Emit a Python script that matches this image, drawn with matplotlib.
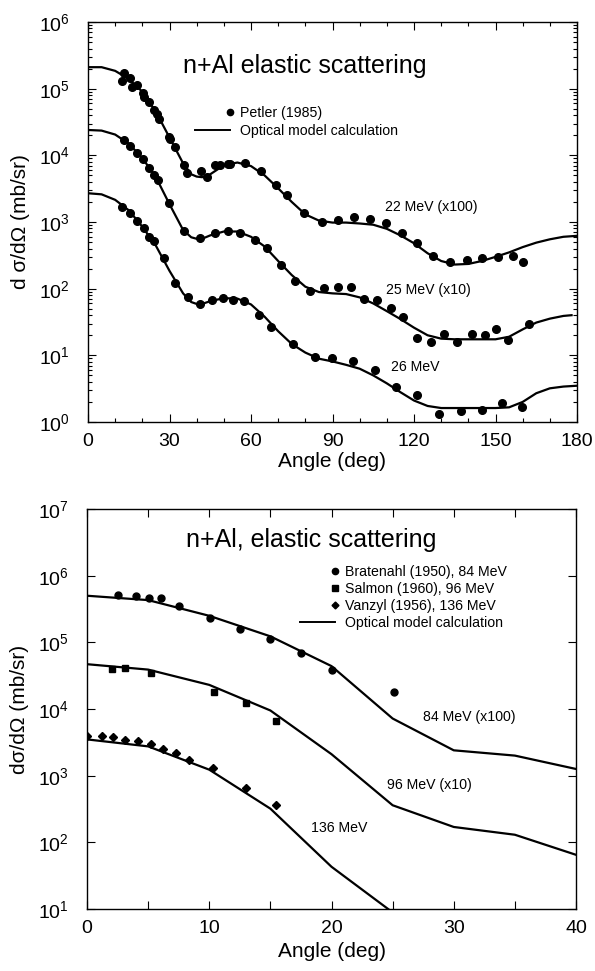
import matplotlib
matplotlib.use('Agg')
import matplotlib.pyplot as plt
from matplotlib.legend_handler import HandlerLine2D
from matplotlib.lines import Line2D
from matplotlib.ticker import MultipleLocator, LogLocator, NullLocator, NullFormatter

plt.rcParams['font.family'] = ['Liberation Sans', 'DejaVu Sans']
plt.rcParams['mathtext.fontset'] = 'custom'
plt.rcParams['mathtext.rm'] = 'Liberation Sans'
plt.rcParams['mathtext.default'] = 'regular'

# ---------- top panel: n+Al, 22/25/26 MeV ----------
ang_22 = [12.4, 13.2, 15.5, 16.3, 17.9, 20.1, 20.6, 22.5, 24.4, 25.5, 26.2, 29.9, 30.3, 32.0,
          35.4, 36.5, 41.6, 43.8, 46.7, 48.6, 51.4, 52.3, 57.8, 63.6, 69.2, 73.1, 79.5, 86.0,
          92.1, 97.9, 103.8, 109.7, 115.4, 121.0, 127.1, 133.2, 139.4, 145.2, 150.9, 156.5, 160.2]
xs_22 = [1.30e5, 1.74e5, 1.43e5, 1.07e5, 1.13e5, 8.7e4, 7.4e4, 6.3e4, 4.8e4, 4.2e4, 3.5e4, 1.9e4,
         1.74e4, 1.35e4, 7.2e3, 5.4e3, 5.8e3, 4.8e3, 7.1e3, 7.2e3, 7.4e3, 7.4e3, 7.6e3, 5.9e3,
         3.6e3, 2.5e3, 1.35e3, 1.0e3, 1.07e3, 1.2e3, 1.1e3, 9.8e2, 6.9e2, 4.8e2, 3.1e2, 2.5e2,
         2.7e2, 2.9e2, 3.0e2, 3.1e2, 2.5e2]

ang_25 = [13.2, 15.5, 17.9, 20.1, 22.5, 24.4, 25.6, 29.9, 35.4, 41.4, 46.7, 51.5, 56.0, 61.5,
          65.9, 71.1, 76.3, 81.7, 87.0, 92.1, 96.7, 101.6, 106.5, 111.4, 116.0, 121.0, 126.2,
          131.1, 136.0, 141.3, 146.2, 150.2, 154.7, 162.4]
xs_25 = [1.7e4, 1.4e4, 1.07e4, 8.7e3, 6.5e3, 5.1e3, 4.3e3, 1.9e3, 7.4e2, 5.8e2, 6.9e2, 7.4e2,
         6.9e2, 5.3e2, 4.1e2, 2.3e2, 1.3e2, 93, 102, 105, 105, 71, 68, 51, 37, 18, 16, 21, 16,
         21, 20, 25, 17, 30]

ang_26 = [12.4, 15.5, 18.1, 20.6, 22.6, 24.3, 28.1, 32.0, 36.9, 41.2, 45.5, 49.6, 53.5, 57.5,
          63.1, 67.4, 75.3, 83.5, 89.7, 97.6, 105.6, 113.4, 121.0, 129.2, 137.2, 144.9, 152.5, 159.6]
xs_26 = [1.7e3, 1.35e3, 1.05e3, 8.1e2, 6.0e2, 5.1e2, 2.9e2, 1.23e2, 74, 58, 68, 72, 68, 66,
         40, 27, 15, 9.3, 9.1, 8.1, 6.0, 3.4, 2.5, 1.32, 1.48, 1.51, 1.95, 1.66]

calc_ang = [0, 5, 10, 15, 20, 25, 30, 35, 38, 40, 42, 45, 50, 55, 60, 65, 70, 75, 80, 85, 90,
            95, 100, 105, 110, 115, 120, 125, 130, 135, 140, 145, 150, 155, 160, 165, 170, 175, 180]
calc_22 = [2.1e5, 2.1e5, 1.85e5, 1.4e5, 9.0e4, 4.5e4, 1.85e4, 7.6e3, 5.2e3, 4.8e3, 4.7e3, 5.2e3,
           7.1e3, 7.8e3, 6.9e3, 5.0e3, 3.2e3, 2.0e3, 1.3e3, 1.05e3, 9.8e2, 9.8e2, 9.5e2, 9.1e2,
           7.9e2, 6.3e2, 4.8e2, 3.4e2, 2.6e2, 2.3e2, 2.35e2, 2.6e2, 3.0e2, 3.5e2, 4.2e2, 4.9e2,
           5.5e2, 6.0e2, 6.2e2]
calc_25 = [2.4e4, 2.35e4, 2.05e4, 1.5e4, 9.1e3, 4.7e3, 1.85e3, 7.6e2, 5.9e2, 5.6e2, 5.6e2, 6.3e2,
           7.2e2, 7.2e2, 6.0e2, 4.3e2, 2.6e2, 1.6e2, 1.07e2, 89, 85, 83, 74, 60, 46, 35, 26, 20,
           17.8, 17.4, 17.4, 17.4, 17.4, 19, 24.5, 31, 35.5, 39, 40]
calc_26 = [2.7e3, 2.6e3, 2.15e3, 1.5e3, 8.5e2, 4.4e2, 1.85e2, 85, 63, 59, 59, 65, 72, 71, 58,
           38, 23, 14.8, 11, 8.9, 8.1, 7.2, 6.3, 5.0, 3.8, 2.8, 2.1, 1.74, 1.62, 1.62, 1.62, 1.62,
           1.62, 1.66, 2.0, 2.7, 3.2, 3.4, 3.5]

# ---------- bottom panel: n+Al, 84/96/136 MeV ----------
ang_84 = [2.56, 4.0, 5.07, 6.05, 7.55, 10.06, 12.5, 15.0, 17.5, 20.0, 25.1]
xs_84 = [5.2e5, 5.0e5, 4.7e5, 4.6e5, 3.5e5, 2.3e5, 1.6e5, 1.12e5, 6.9e4, 3.9e4, 1.8e4]
ang_96 = [2.07, 3.1, 5.2, 10.4, 13.0, 15.5]
xs_96 = [4.0e4, 4.1e4, 3.5e4, 1.8e4, 1.23e4, 6.6e3]
ang_136 = [0.0, 1.2, 2.15, 3.1, 4.15, 5.2, 6.25, 7.25, 8.35, 10.3, 13.0, 15.5]
xs_136 = [4.0e3, 4.0e3, 3.8e3, 3.4e3, 3.3e3, 3.0e3, 2.5e3, 2.2e3, 1.74e3, 1.29e3, 6.6e2, 3.6e2]

calc_ang_hi = [0, 5, 10, 15, 20, 25, 30, 35, 40]
calc_84 = [5.0e5, 4.3e5, 2.5e5, 1.23e5, 4.4e4, 7.2e3, 2.4e3, 2.0e3, 1.26e3]
calc_96 = [4.7e4, 3.9e4, 2.3e4, 9.5e3, 2.1e3, 3.6e2, 1.7e2, 1.3e2, 65]
calc_136 = [3.5e3, 2.75e3, 1.23e3, 3.2e2, 43, 8.9]


class RightMarker(HandlerLine2D):
    # put the legend marker at the right end of the handle, like the original
    def get_xdata(self, legend, xdescent, ydescent, width, height, fontsize):
        x = width - xdescent
        return [x, x], [x]


def style_axes(ax):
    ax.tick_params(which='both', direction='in', top=True, right=True,
                   labelsize=14, width=0.8)
    ax.tick_params(which='major', length=6)
    ax.tick_params(which='minor', length=3)
    ax.tick_params(axis='x', pad=8)
    ax.tick_params(axis='y', pad=13)
    for s in ax.spines.values():
        s.set_linewidth(1.0)


fig = plt.figure(figsize=(5.95, 9.71), dpi=100)
lab_fs = 10.2

# top panel
ax1 = fig.add_axes([88/595, 1 - 422/971, 489/595, 400/971])
ax1.set_yscale('log')
ax1.plot(calc_ang, calc_22, 'k-', lw=1.6)
ax1.plot(calc_ang[:-1] + [178], calc_25, 'k-', lw=1.6)
ax1.plot(calc_ang, calc_26, 'k-', lw=1.6)
ax1.plot(ang_22, xs_22, 'ko', ms=5.5)
ax1.plot(ang_25, xs_25, 'ko', ms=5.5)
ax1.plot(ang_26, xs_26, 'ko', ms=5.5)
ax1.set_xlim(0, 180)
ax1.set_ylim(1, 1e6)
ax1.xaxis.set_major_locator(MultipleLocator(30))
ax1.xaxis.set_minor_locator(MultipleLocator(10))
ax1.yaxis.set_major_locator(LogLocator(base=10, numticks=10))
ax1.yaxis.set_minor_locator(LogLocator(base=10, subs=range(2, 10), numticks=10))
ax1.yaxis.set_minor_formatter(NullFormatter())
style_axes(ax1)
ax1.set_xlabel('Angle (deg)', fontsize=15)
ax1.set_ylabel('d \u03c3/d\u03a9 (mb/sr)', fontsize=15)
ax1.xaxis.set_label_coords(0.5, -0.075)
ax1.yaxis.set_label_coords(-0.118, 0.5)
ax1.text(0.444, 0.889, 'n+Al elastic scattering', transform=ax1.transAxes,
         ha='center', va='center', fontsize=18)
ax1.text(109.3, 1.68e3, '22 MeV (x100)', ha='left', va='center', fontsize=lab_fs)
ax1.text(109.7, 96, '25 MeV (x10)', ha='left', va='center', fontsize=lab_fs)
ax1.text(111.5, 6.7, '26 MeV', ha='left', va='center', fontsize=lab_fs)
h1 = [Line2D([], [], color='k', marker='o', ls='none', ms=4.5),
      Line2D([], [], color='k', lw=1.4)]
ax1.legend(h1, ['Petler (1985)', 'Optical model calculation'],
           loc='upper left', bbox_to_anchor=(0.219, 0.791), frameon=False,
           fontsize=lab_fs, handlelength=2.45, handletextpad=0.7, labelspacing=0.28,
           borderpad=0, borderaxespad=0,
           handler_map={h1[0]: RightMarker()})

# bottom panel
ax2 = fig.add_axes([87/595, 1 - 909/971, 489/595, 400/971])
ax2.set_yscale('log')
ax2.plot(calc_ang_hi, calc_84, 'k-', lw=1.6)
ax2.plot(calc_ang_hi, calc_96, 'k-', lw=1.6)
ax2.plot(calc_ang_hi[:len(calc_136)], calc_136, 'k-', lw=1.6)
ax2.plot(ang_84, xs_84, 'ko', ms=5)
ax2.plot(ang_96, xs_96, 'ks', ms=4.5)
ax2.plot(ang_136, xs_136, 'kD', ms=4.2)
ax2.set_xlim(0, 40)
ax2.set_ylim(10, 1e7)
ax2.xaxis.set_major_locator(MultipleLocator(10))
ax2.xaxis.set_minor_locator(MultipleLocator(5))
ax2.yaxis.set_major_locator(LogLocator(base=10, numticks=10))
ax2.yaxis.set_minor_locator(NullLocator())
style_axes(ax2)
ax2.tick_params(which='minor', length=6)
ax2.set_xlabel('Angle (deg)', fontsize=15)
ax2.set_ylabel('d\u03c3/d\u03a9 (mb/sr)', fontsize=15)
ax2.xaxis.set_label_coords(0.5, -0.0825)
ax2.yaxis.set_label_coords(-0.118, 0.5)
ax2.text(0.458, 0.9225, 'n+Al, elastic scattering', transform=ax2.transAxes,
         ha='center', va='center', fontsize=18)
ax2.text(27.5, 7.6e3, '84 MeV (x100)', ha='left', va='center', fontsize=lab_fs)
ax2.text(24.5, 7.3e2, '96 MeV (x10)', ha='left', va='center', fontsize=lab_fs)
ax2.text(18.3, 1.65e2, '136 MeV', ha='left', va='center', fontsize=lab_fs)
h2 = [Line2D([], [], color='k', marker='o', ls='none', ms=4.5),
      Line2D([], [], color='k', marker='s', ls='none', ms=4),
      Line2D([], [], color='k', marker='D', ls='none', ms=3.5),
      Line2D([], [], color='k', lw=1.4)]
ax2.legend(h2, ['Bratenahl (1950), 84 MeV', 'Salmon (1960), 96 MeV',
                'Vanzyl (1956), 136 MeV', 'Optical model calculation'],
           loc='upper left', bbox_to_anchor=(0.436, 0.86), frameon=False,
           fontsize=lab_fs, handlelength=2.45, handletextpad=0.7, labelspacing=0.21,
           borderpad=0, borderaxespad=0,
           handler_map={h2[0]: RightMarker(), h2[1]: RightMarker(), h2[2]: RightMarker()})

fig.savefig('out.png', dpi=100)
